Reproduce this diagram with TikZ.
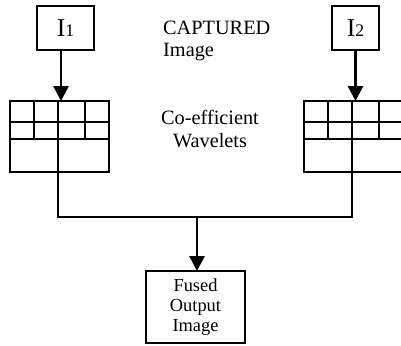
\documentclass[tikz,border=0pt]{standalone}
\usepackage{fontspec}
\setmainfont{Liberation Serif}
\usetikzlibrary{arrows.meta}

% index label: large capital I with a lowered small digit
\newcommand{\imglabel}[1]{{\fontsize{25.7}{26}\selectfont I\raisebox{-0.8pt}{\fontsize{17.7}{18}\selectfont #1}}}

\begin{document}
\begin{tikzpicture}[x=1pt,y=-1pt,
  frame/.style={draw, line width=2pt, inner sep=0pt, outer sep=0pt},
  gridbox/.style={frame, minimum width=99pt, minimum height=71pt},
  gridline/.style={line width=2pt},
  link/.style={line width=2pt},
  arr/.style={line width=2.7pt, -{Triangle[length=15pt, width=15pt]}},
  caption/.style={inner sep=0pt, font=\fontsize{20.3}{22.5}\selectfont}
]
\useasboundingbox (0,0) rectangle (401,345);

% input image boxes
\node[frame, minimum width=57pt, minimum height=44pt] (I1) at (65.5,28) {\imglabel{1}};
\node[frame, minimum width=47pt, minimum height=44pt] (I2) at (355.5,28) {\imglabel{2}};

% wavelet coefficient grids
\node[gridbox] (gL) at (59.5,136.5) {};
\node[gridbox] (gR) at (353.5,136.5) {};
\foreach \g in {gL,gR}{
  \begin{scope}[shift={(\g.north west)}]
    \draw[gridline] (0,21) -- (99,21);
    \draw[gridline] (0,38) -- (99,38);
    \draw[gridline] (23.5,0) -- (23.5,38);
    \draw[gridline] (48,0) -- (48,71);
    \draw[gridline] (74.5,0) -- (74.5,38);
  \end{scope}
}

% fused result
\node[frame, minimum width=99pt, minimum height=72pt, align=center,
      font=\fontsize{18.4}{20}\selectfont] (F) at (195.5,307) {Fused\\Output\\Image};

% captions (anchored at the baseline of their last line)
\node[caption, align=left, anchor=base west] (cap) at (163,56.5) {CAPTURED\\Image};
\node[caption, align=center, anchor=base] (coef) at (210,147) {Co-efficient\\Wavelets};

% arrows from inputs to grids
\draw[arr] ([xshift=-4.5pt]I1.south) -- ([xshift=-4.5pt]I1.south |- gL.north);
\draw[arr] (I2.south) -- (I2.south |- gR.north);

% merge of both grids into the fused output
\coordinate (j) at (197,217);
\draw[link] ([xshift=-1.5pt]gL.south) |- (j) -| ([xshift=-1.5pt]gR.south);
\draw[arr] (j) -- (j |- F.north);
\end{tikzpicture}
\end{document}
